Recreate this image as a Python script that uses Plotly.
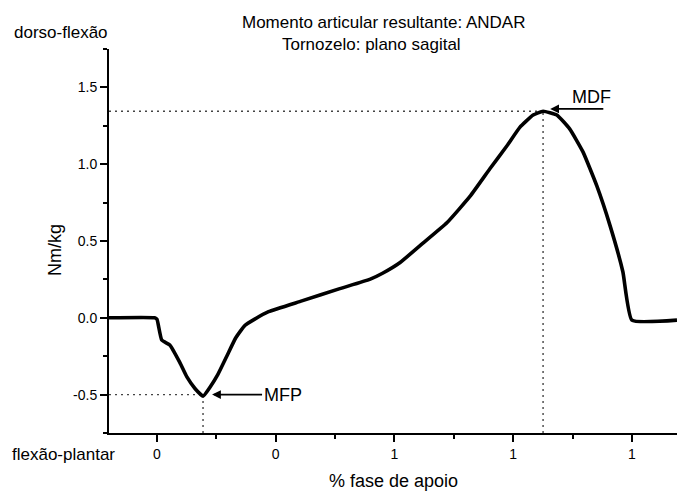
import plotly.graph_objects as go

# ---- data ----
stance_pct = [-10.1, -0.5, 0.0, 1.0, 2.7, 4.8, 6.3, 8.0, 9.7, 11.2, 12.8, 14.7, 16.6, 18.5,
              20.5, 23.5, 30.5, 38.5, 44.8, 47.5, 51.2, 55.4, 61.1, 65.9, 70.1, 73.7,
              76.4, 79.2, 81.3, 84.2, 86.9, 89.7, 92.6, 95.4, 98.1, 100.0, 109.5]
moment_nmkg = [0.0, 0.0, -0.01, -0.145, -0.177, -0.29, -0.385, -0.46, -0.51, -0.45, -0.37,
               -0.25, -0.13, -0.05, -0.01, 0.04, 0.11, 0.19, 0.25, 0.29, 0.36, 0.47, 0.62,
               0.79, 0.97, 1.12, 1.24, 1.32, 1.345, 1.32, 1.23, 1.08, 0.86, 0.60, 0.30,
               -0.015, -0.015]

x_tickvals = [0, 25, 50, 75, 100]
x_ticktext = ["0", "0", "1", "1", "1"]
y_tickvals = [-0.5, 0.0, 0.5, 1.0, 1.5]
y_ticktext = ["-0.5", "0.0", "0.5", "1.0", "1.5"]

X_RANGE = [-10.1, 109.5]
Y_RANGE = [-0.75, 1.75]

title_line1 = "Momento articular resultante: ANDAR"
title_line2 = "Tornozelo: plano sagital"

# key points
i_min = moment_nmkg.index(min(moment_nmkg))
i_max = moment_nmkg.index(max(moment_nmkg))
mfp_x, mfp_y = stance_pct[i_min], -0.5
mdf_x, mdf_y = stance_pct[i_max], moment_nmkg[i_max]

FONT = "Liberation Sans, Arial, sans-serif"

fig = go.Figure()
fig.add_trace(go.Scatter(x=stance_pct, y=moment_nmkg, mode="lines",
                         line=dict(color="black", width=3.6, shape="spline", smoothing=0.4),
                         hoverinfo="skip", showlegend=False))

dot = dict(color="#444", width=1.4, dash="2px,4px")
# MFP guide lines
fig.add_shape(type="line", x0=X_RANGE[0], x1=mfp_x, y0=mfp_y, y1=mfp_y, line=dot, layer="below")
fig.add_shape(type="line", x0=mfp_x, x1=mfp_x, y0=Y_RANGE[0], y1=mfp_y, line=dot, layer="below")
# MDF guide lines
fig.add_shape(type="line", x0=X_RANGE[0], x1=mdf_x, y0=mdf_y, y1=mdf_y, line=dot, layer="below")
fig.add_shape(type="line", x0=mdf_x, x1=mdf_x, y0=Y_RANGE[0], y1=mdf_y, line=dot, layer="below")

annotations = [
    # MFP label with arrow
    dict(x=mfp_x + 1.9, y=mfp_y, xref="x", yref="y", text="MFP", showarrow=True,
         ax=50, ay=0, arrowhead=2, arrowsize=1.1, arrowwidth=1.6, arrowcolor="black",
         font=dict(family=FONT, size=18, color="black"), xanchor="left", yanchor="middle"),
    # MDF text
    dict(x=mdf_x + 10.3, y=mdf_y + 0.095, xref="x", yref="y", text="MDF", showarrow=False,
         font=dict(family=FONT, size=18, color="black"), xanchor="center", yanchor="middle"),
    # MDF arrow
    dict(x=mdf_x + 1.5, y=mdf_y + 0.015, xref="x", yref="y", text="", showarrow=True,
         axref="x", ayref="y", ax=mdf_x + 13.0, ay=mdf_y + 0.015,
         arrowhead=2, arrowsize=1.1, arrowwidth=1.6, arrowcolor="black"),
    # titles
    dict(x=383, y=22, xref="paper", yref="paper", text=title_line1, showarrow=False,
         font=dict(family=FONT, size=17, color="black")),
    dict(x=371, y=45, xref="paper", yref="paper", text=title_line2, showarrow=False,
         font=dict(family=FONT, size=17, color="black")),
    dict(x=61, y=33, xref="paper", yref="paper", text="dorso-flexão", showarrow=False,
         font=dict(family=FONT, size=17, color="black")),
    dict(x=63, y=454, xref="paper", yref="paper", text="flexão-plantar", showarrow=False,
         font=dict(family=FONT, size=17, color="black")),
    dict(x=393, y=481, xref="paper", yref="paper", text="% fase de apoio", showarrow=False,
         font=dict(family=FONT, size=18, color="black")),
    dict(x=55, y=250, xref="paper", yref="paper", text="Nm/kg", showarrow=False, textangle=-90,
         font=dict(family=FONT, size=18, color="black")),
]

# convert pixel-placed paper annotations into paper fractions
L, R, T, B, W, H = 109, 0, 49, 63, 677, 496
pw, ph = W - L - R, H - T - B
for a in annotations:
    if a.get("xref") == "paper":
        a["x"] = (a["x"] - L) / pw
        a["y"] = 1 - (a["y"] - T) / ph
        a["xanchor"] = "center"
        a["yanchor"] = "middle"

fig.update_layout(
    width=W, height=H,
    margin=dict(l=L, r=R, t=T, b=B, pad=0),
    paper_bgcolor="white", plot_bgcolor="white",
    font=dict(family=FONT, size=13, color="black"),
    annotations=annotations,
    xaxis=dict(range=X_RANGE, tickmode="array", tickvals=x_tickvals, ticktext=x_ticktext,
               showgrid=False, zeroline=False, showline=True, linecolor="black", linewidth=2,
               ticks="outside", ticklen=7, tickwidth=2, tickcolor="black",
               tickfont=dict(size=14, family=FONT),
               minor=dict(tick0=12.5, dtick=25, ticks="outside", ticklen=4, tickwidth=1.5,
                          tickcolor="black", showgrid=False),
               fixedrange=True),
    yaxis=dict(range=Y_RANGE, tickmode="array", tickvals=y_tickvals, ticktext=y_ticktext,
               showgrid=False, zeroline=False, showline=True, linecolor="black", linewidth=2,
               ticks="outside", ticklen=7, tickwidth=2, tickcolor="black",
               tickfont=dict(size=14, family=FONT),
               minor=dict(tick0=0.25, dtick=0.5, ticks="outside", ticklen=4, tickwidth=1.5,
                          tickcolor="black", showgrid=False),
               fixedrange=True),
)

fig.write_html("out.html", config={"displayModeBar": False},
               post_script="document.body.style.margin='0';document.body.style.overflow='hidden';")
